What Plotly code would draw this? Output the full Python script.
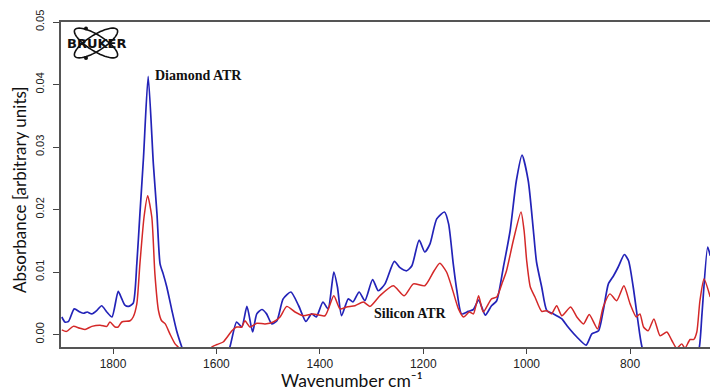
import numpy as np
import plotly.graph_objects as go

# ---------------- data ----------------
diamond_wn = [1899, 1893, 1886, 1875, 1864, 1857, 1850, 1841, 1832, 1822, 1812, 1802,
              1790, 1783, 1777, 1770, 1761, 1754, 1748, 1741, 1732, 1722, 1715, 1709,
              1703, 1696, 1686, 1677, 1667, 1640, 1600, 1574, 1561, 1551, 1541, 1530,
              1522, 1512, 1503, 1493, 1483, 1471, 1456, 1441, 1427, 1416, 1407, 1394,
              1384, 1373, 1366, 1358, 1345, 1336, 1324, 1313, 1298, 1287, 1274, 1256,
              1245, 1232, 1222, 1208, 1197, 1187, 1174, 1159, 1151, 1142, 1135, 1126,
              1113, 1103, 1093, 1080, 1068, 1058, 1045, 1032, 1020, 1009, 997, 987,
              981, 971, 961, 948, 932, 922, 903, 885, 874, 861, 852, 842, 832, 823,
              811, 803, 794, 785, 777, 740, 690, 666, 661, 650, 645]
diamond_abs = [0.0028, 0.0020, 0.0021, 0.0041, 0.0036, 0.0034, 0.0036, 0.0033, 0.0038, 0.0046, 0.0036, 0.0028,
               0.0069, 0.0057, 0.0047, 0.0045, 0.0050, 0.0113, 0.0193, 0.0284, 0.0413, 0.0273, 0.0193, 0.0113,
               0.0097, 0.0076, 0.0038, 0.0006, -0.0020, -0.0080, -0.0080, -0.0020, 0.0020, 0.0012, 0.0045, 0.0004,
               0.0033, 0.0040, 0.0033, 0.0017, 0.0022, 0.0057, 0.0068, 0.0046, 0.0021, 0.0033, 0.0028, 0.0052,
               0.0041, 0.0100, 0.0076, 0.0030, 0.0057, 0.0052, 0.0068, 0.0054, 0.0088, 0.0070, 0.0081, 0.0117,
               0.0107, 0.0102, 0.0110, 0.0151, 0.0132, 0.0145, 0.0185, 0.0196, 0.0177, 0.0113, 0.0070, 0.0033,
               0.0037, 0.0040, 0.0055, 0.0031, 0.0046, 0.0054, 0.0108, 0.0166, 0.0246, 0.0287, 0.0246, 0.0166,
               0.0116, 0.0076, 0.0038, 0.0033, 0.0025, 0.0014, -0.0004, -0.0017, 0.0001, 0.0006, 0.0038, 0.0081, 0.0094, 0.0108,
               0.0128, 0.0118, 0.0076, 0.0022, -0.0020, -0.0100, -0.0100, -0.0020, 0.0033, 0.0140, 0.0126]

silicon_wn = [1899, 1890, 1877, 1864, 1854, 1841, 1825, 1812, 1806, 1796, 1790, 1783,
              1767, 1761, 1754, 1748, 1740, 1733, 1725, 1719, 1712, 1706, 1699, 1690,
              1680, 1674, 1640, 1609, 1599, 1587, 1570, 1561, 1551, 1545, 1535, 1522,
              1506, 1490, 1477, 1464, 1448, 1432, 1413, 1390, 1373, 1361, 1348, 1332,
              1316, 1303, 1284, 1258, 1237, 1219, 1197, 1179, 1168, 1155, 1145, 1132,
              1122, 1111, 1103, 1093, 1084, 1068, 1058, 1048, 1039, 1026, 1011, 1005,
              1000, 993, 984, 971, 961, 952, 942, 932, 915, 903, 890, 879, 863, 852,
              839, 826, 812, 800, 788, 781, 774, 765, 754, 742, 729, 719, 710, 700,
              694, 684, 677, 671, 665, 657, 645]
silicon_abs = [0.00075, 0.0005, 0.0013, 0.0010, 0.0008, 0.0013, 0.0015, 0.0013, 0.0020, 0.0012, 0.0012, 0.0020,
               0.0022, 0.0028, 0.0049, 0.0113, 0.0188, 0.0222, 0.0188, 0.0097, 0.0038, 0.0022, 0.0017, 0.0001,
               -0.0015, -0.0020, -0.0050, -0.0020, -0.0016, -0.0012, 0.0006, 0.0012, 0.0012, 0.0022, 0.0012, 0.0018,
               0.0017, 0.0020, 0.0028, 0.0045, 0.0036, 0.0030, 0.0033, 0.0030, 0.0062, 0.0041, 0.0044, 0.0046,
               0.0052, 0.0045, 0.0062, 0.0078, 0.0062, 0.0081, 0.0078, 0.0102, 0.0114, 0.0100, 0.0076, 0.0041,
               0.0028, 0.0036, 0.0033, 0.0062, 0.0036, 0.0057, 0.0060, 0.0081, 0.0102, 0.0150, 0.0196, 0.0166,
               0.0118, 0.0076, 0.0060, 0.0037, 0.0038, 0.0033, 0.0046, 0.0030, 0.0044, 0.0028, 0.0017, 0.0032, 0.0009, 0.0044,
               0.0065, 0.0054, 0.0078, 0.0049, 0.0028, 0.0033, 0.0012, 0.0006, 0.0025, -0.0002, 0.0004, -0.0010, -0.0022, -0.0015,
               -0.0022, -0.0008, -0.0008, 0.0004, 0.0054, 0.0089, 0.0060]

x_ticks = [1800, 1600, 1400, 1200, 1000, 800]
y_ticks = [0.00, 0.01, 0.02, 0.03, 0.04, 0.05]
y_tick_labels = ["0.00", "0.01", "0.02", "0.03", "0.04", "0.05"]

# ---------------- figure ----------------
W, H = 710, 392
ML, MR, MT, MB = 61, 0, 22, 45
PW, PH = W - ML - MR, H - MT - MB


def px(x):
    return (x - ML) / PW


def py(y):
    return (H - MB - y) / PH


fig = go.Figure()
fig.add_trace(go.Scatter(x=diamond_wn, y=diamond_abs, mode="lines", name="Diamond ATR",
                         line=dict(color="#2323b8", width=1.7, shape="spline", smoothing=0.6)))
fig.add_trace(go.Scatter(x=silicon_wn, y=silicon_abs, mode="lines", name="Silicon ATR",
                         line=dict(color="#d42828", width=1.5, shape="spline", smoothing=0.6)))

xtickfont = dict(family="Liberation Sans, Arial, sans-serif", size=12, color="#222")
ytickfont = dict(family="Liberation Sans, Arial, sans-serif", size=11, color="#222")

fig.update_layout(
    width=W, height=H,
    margin=dict(l=ML, r=MR, t=MT, b=MB, pad=0),
    paper_bgcolor="white", plot_bgcolor="white",
    showlegend=False,
    xaxis=dict(range=[1900.6, 645.5], tickvals=x_ticks, ticks="outside", ticklen=5,
               tickcolor="#444", tickwidth=1, showline=True, linecolor="#555", linewidth=1.5,
               mirror=True, showgrid=False, zeroline=False, tickfont=xtickfont),
    yaxis=dict(range=[-0.002, 0.050], tickvals=y_ticks, ticktext=y_tick_labels,
               ticks="outside", ticklen=6, tickcolor="#444", tickwidth=1, tickangle=-90,
               showline=True, linecolor="#555", linewidth=1.5, showgrid=False,
               zeroline=False, tickfont=ytickfont, ticklabelstandoff=5),
)

annotations = [
    dict(text="Diamond ATR", x=px(153), y=py(75), xref="paper", yref="paper",
         xanchor="left", yanchor="middle", showarrow=False,
         font=dict(family="Liberation Serif, Times New Roman, serif", size=14, color="#111", weight="bold")),
    dict(text="Silicon ATR", x=px(372), y=py(313), xref="paper", yref="paper",
         xanchor="left", yanchor="middle", showarrow=False,
         font=dict(family="Liberation Serif, Times New Roman, serif", size=14, color="#111", weight="bold")),
    dict(text="Wavenumber cm\u207b\u00b9", x=px(352), y=py(392), xref="paper", yref="paper",
         xanchor="center", yanchor="bottom", showarrow=False, borderpad=0,
         font=dict(family="Lato, Noto Sans, sans-serif", size=17.5, color="#111")),
    dict(text="Absorbance [arbitrary units]", x=px(19), y=py(190), xref="paper", yref="paper",
         xanchor="center", yanchor="middle", showarrow=False, textangle=-90,
         font=dict(family="Lato, sans-serif", size=17, color="#111")),
    dict(text="<b>BRUKER</b>", x=px(96), y=py(43), xref="paper", yref="paper",
         xanchor="center", yanchor="middle", showarrow=False,
         font=dict(family="DejaVu Sans, sans-serif", size=13, color="#111")),
]
fig.update_layout(annotations=annotations)

# Bruker logo orbits (decoration, built in pixel space)
shapes = []
t = np.linspace(0, 2 * np.pi, 60)
for ang in (32, -32):
    a, b = 25, 8
    th = np.deg2rad(ang)
    xs = 96 + a * np.cos(t) * np.cos(th) - b * np.sin(t) * np.sin(th)
    ys = 43 + a * np.cos(t) * np.sin(th) + b * np.sin(t) * np.cos(th)
    path = "M " + " L ".join(f"{px(x):.5f},{py(y):.5f}" for x, y in zip(xs, ys)) + " Z"
    shapes.append(dict(type="path", path=path, xref="paper", yref="paper",
                       line=dict(color="#111", width=1.6), layer="below"))
for cx, cy in ((86, 28.5), (86, 58)):
    shapes.append(dict(type="circle", xref="paper", yref="paper",
                       x0=px(cx - 2), x1=px(cx + 2), y0=py(cy + 2), y1=py(cy - 2),
                       fillcolor="#111", line=dict(color="#111", width=0)))
fig.update_layout(shapes=shapes)

fig.write_html("out.html")
